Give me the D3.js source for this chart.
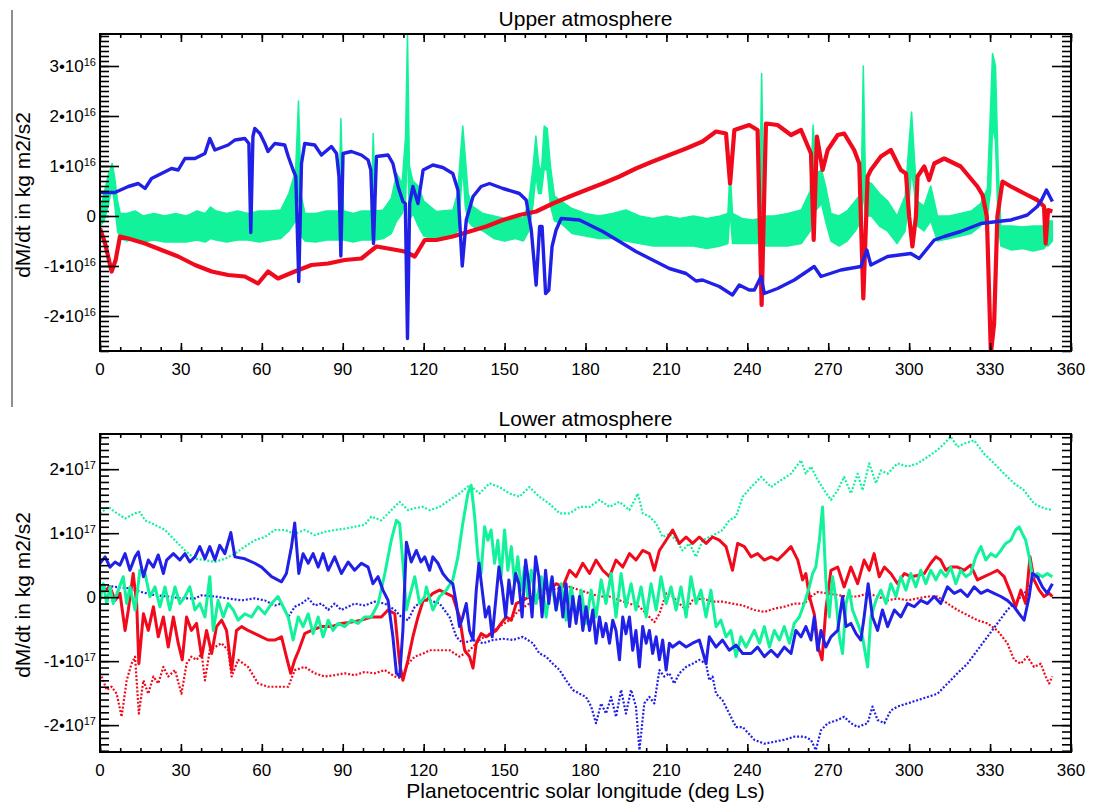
<!DOCTYPE html>
<html lang="en">
<head>
<meta charset="utf-8">
<script src="https://d3js.org/d3.v7.min.js"></script>
<style type="text/css">
body { margin: 0; background: white; }
svg text { font-family: "Liberation Sans", Arial, Helvetica, sans-serif; fill: black; }
.tick line { stroke: black; stroke-width: 1.6; }
</style>
</head>
<body>
<svg id="chart" width="1094" height="809"></svg>
<script type="text/javascript">

// ---- tick labels ----
var xTicks = [0, 30, 60, 90, 120, 150, 180, 210, 240, 270, 300, 330, 360];
var upperYTicks = [-2, -1, 0, 1, 2, 3];
var lowerYTicks = [-2, -1, 0, 1, 2];
var upperExp = "16", lowerExp = "17";   // values below are in units of 1e16 / 1e17

// ---- Upper atmosphere: [Ls, dM/dt / 1e16] ----
var upperRed = [[0,-0.25],[1.9,-0.55],[4.3,-1.11],[5.8,-0.88],[7.4,-0.41],[10.5,-0.45],[16.7,-0.55],[22.8,-0.68],[29,-0.81],[35.2,-0.98],[41.4,-1.11],[47.5,-1.18],[53.7,-1.21],[58.6,-1.35],[62.3,-1.11],[66,-1.25],[72.2,-1.11],[78.4,-0.98],[84.6,-0.95],[90.7,-0.88],[96.9,-0.85],[102.5,-0.61],[106.8,-0.65],[113,-0.71],[116.7,-0.81],[120.4,-0.48],[124.7,-0.48],[130.8,-0.41],[137,-0.31],[143.2,-0.21],[149.4,-0.08],[155.5,0.02],[161.7,0.09],[167.9,0.25],[174.1,0.39],[180.2,0.52],[186.4,0.65],[192.6,0.79],[198.7,0.95],[204.9,1.09],[211.1,1.22],[217.3,1.35],[223.4,1.49],[228.4,1.69],[232.1,1.65],[233.6,0.65],[235.2,1.72],[240.7,1.82],[243.8,1.72],[245.3,-1.78],[246.9,1.85],[251.2,1.82],[256.2,1.62],[259.9,1.72],[263.6,1.25],[264.6,-0.48],[265.8,1.59],[267.9,0.92],[269.8,1.32],[273.5,1.62],[275.9,1.65],[279.6,1.32],[281.5,1.05],[283,-1.65],[284.6,0.79],[285.8,0.92],[289.5,1.19],[293.2,1.32],[296.9,0.92],[298.8,0.85],[300,-0.01],[301.2,-0.61],[302.5,-0.01],[303.1,0.79],[305.6,0.99],[307.4,0.72],[309.3,1.05],[313,1.15],[319.1,0.99],[325.3,0.59],[327.2,0.42],[328.8,-0.01],[330.3,-2.75],[331.5,-2.15],[332.7,-0.01],[334.6,0.69],[337.7,0.59],[343.8,0.42],[347.5,0.32],[350,0.19],[350.6,-0.55],[351.5,0.12],[353.1,0.09]];

var upperBlue = [[0,0.47],[5.5,0.47],[10.5,0.59],[14.2,0.65],[16.7,0.55],[19.1,0.75],[22.8,0.85],[26.5,0.95],[29,0.92],[31.5,1.15],[35.2,1.15],[38.9,1.25],[40.7,1.55],[42.6,1.32],[47.5,1.42],[50,1.52],[53.7,1.55],[55.2,1.45],[55.9,-0.33],[56.7,1.59],[57.4,1.75],[59.3,1.65],[61.1,1.45],[62.3,1.29],[64.8,1.45],[68.5,1.42],[69.8,1.19],[71.6,0.92],[72.6,0.79],[73.7,-1.31],[74.7,1.05],[75.9,1.45],[79.6,1.42],[82.1,1.22],[85.8,1.39],[87.7,1.25],[88.6,0.79],[89.3,-0.8],[90.1,1.25],[93.2,1.29],[96.9,1.22],[99.4,1.12],[100.4,0.92],[101.4,-0.55],[102.5,1.19],[106.8,1.22],[108.6,1.05],[110.5,0.59],[112.3,0.29],[113.2,0.25],[114,-2.45],[114.8,0.25],[116,0.59],[117.9,0.25],[119.8,0.92],[123.4,1.02],[127.1,0.97],[130.8,0.85],[132.7,0.52],[134.3,-1.0],[135.8,-0.08],[138.3,0.39],[141.3,0.59],[144.4,0.65],[149.4,0.55],[155.5,0.45],[158,0.32],[159.9,-0.28],[161.7,-1.38],[163,-0.21],[163.9,-0.21],[165.2,-1.55],[166.4,-1.48],[167.6,-0.61],[169.1,-0.28],[171,-0.05],[177.8,-0.08],[186.4,-0.31],[192.6,-0.51],[198.7,-0.71],[204.9,-0.88],[211.1,-1.05],[217.3,-1.15],[221,-1.3],[223.4,-1.28],[229.6,-1.41],[234.5,-1.58],[237,-1.38],[240.7,-1.48],[242.6,-1.48],[245.1,-1.21],[246.3,-1.55],[251.2,-1.45],[257.4,-1.28],[264.8,-1.01],[267.3,-1.21],[274.7,-1.08],[282.1,-1.01],[284.3,-0.68],[285.8,-0.98],[292,-0.81],[300.6,-0.75],[303.7,-0.85],[309.3,-0.48],[313,-0.41],[319.1,-0.31],[326.6,-0.15],[332.7,-0.11],[337.7,-0.08],[343.8,0.02],[347.5,0.19],[349.1,0.32],[350.9,0.52],[353.1,0.29]];

// green is a noisy band: [Ls, low edge, high edge]
var upperGreen = [[0,-0.2,0.1],[1.5,-0.1,0.45],[3,0.2,0.8],[4.5,0.6,1.05],[5.5,0.2,0.75],[6.5,-0.3,0.3],[7.5,-0.45,0.05],[10,-0.5,0.05],[13,-0.45,0.1],[16,-0.52,0.0],[20,-0.48,0.05],[24,-0.52,0.0],[28,-0.52,0.05],[32,-0.52,0.0],[36,-0.48,0.1],[39,-0.52,0.05],[41,-0.45,0.18],[43,-0.48,0.1],[47,-0.52,0.05],[51,-0.48,0.1],[55,-0.48,0.05],[59,-0.52,0.1],[63,-0.48,0.1],[67,-0.45,0.12],[70,-0.3,0.45],[72.5,-0.1,0.9],[73.6,0.5,2.3],[74.6,-0.4,0.4],[76,-0.5,0.05],[80,-0.52,0.05],[84,-0.48,0.1],[88.5,-0.48,0.1],[89.3,0.2,1.95],[90.3,-0.48,0.1],[94,-0.52,0.05],[97,-0.48,0.1],[100.5,-0.48,0.1],[101.3,0.2,1.65],[102.2,-0.48,0.1],[105,-0.45,0.12],[108,-0.35,0.35],[110,-0.1,0.85],[112,0.05,0.65],[113.3,0.3,1.6],[114,1.5,3.65],[114.7,-0.1,1.0],[116,0.05,0.7],[118,-0.2,0.6],[120,-0.4,0.3],[124.7,-0.48,0.09],[130.8,-0.41,0.12],[132.6,-0.3,0.45],[133.6,0.3,1.2],[134.5,1.0,1.8],[135.4,0.2,1.2],[136.5,-0.1,0.45],[138,-0.2,0.2],[142,-0.3,0.05],[146,-0.45,0.0],[150,-0.5,-0.05],[154,-0.45,0.0],[157,-0.5,-0.05],[159,-0.3,0.3],[160.5,0.2,0.95],[161.6,0.8,1.6],[162.6,0.45,1.05],[163.6,0.45,0.85],[164.7,0.95,1.8],[165.8,0.9,1.75],[167,0.2,1.0],[168.5,-0.1,0.4],[171,-0.15,0.3],[175,-0.35,0.15],[180,-0.4,0.05],[185,-0.45,0.0],[190,-0.45,0.05],[195,-0.5,0.12],[200,-0.55,0.0],[205,-0.6,-0.05],[210,-0.6,0.0],[215,-0.6,-0.05],[220,-0.6,0.0],[225,-0.65,-0.05],[230,-0.6,0.0],[232.8,-0.55,0.05],[233.6,0.1,0.92],[234.5,-0.55,0.05],[238,-0.55,-0.05],[242,-0.55,-0.08],[244.5,-0.55,-0.05],[245.3,0.5,2.85],[246.2,-0.6,0.0],[250,-0.6,0.0],[255,-0.6,0.05],[260,-0.55,0.12],[263.3,-0.3,0.5],[264.4,0.4,1.82],[265.5,0.12,0.85],[267.5,0.25,0.92],[269,-0.1,0.6],[271,-0.5,0.05],[274,-0.6,0.0],[277,-0.5,0.1],[280,-0.3,0.3],[282.2,-0.1,0.45],[283,0.5,3.0],[283.8,0.0,0.7],[286,0.0,0.65],[289,-0.2,0.45],[292,-0.3,0.3],[295.5,-0.55,0.0],[298.5,-0.3,0.4],[300,0.3,1.5],[300.9,0.9,2.08],[301.9,0.5,1.2],[303,-0.2,0.3],[305.5,-0.3,0.2],[308,-0.1,0.6],[310.5,-0.5,0.0],[315,-0.45,0.0],[319,-0.4,0.05],[323,-0.35,0.1],[326.5,-0.2,0.25],[329,0.0,0.55],[330.2,0.5,2.2],[330.9,1.8,3.25],[332,1.5,3.0],[333,-0.2,1.0],[334,-0.6,-0.2],[338,-0.68,-0.2],[342,-0.65,-0.22],[346,-0.7,-0.2],[350,-0.65,-0.2],[350.6,-0.6,0.05],[351.5,-0.6,-0.1],[353.1,-0.5,-0.1]];

// ---- Lower atmosphere: [Ls, dM/dt / 1e17] ----
var lowerBlue = [[0,0.53],[1.9,0.63],[3.7,0.47],[5.6,0.55],[7.4,0.5],[9.3,0.68],[11.1,0.42],[13,0.63],[14.2,0.71],[16.1,0.32],[17.9,0.58],[19.8,0.47],[21.6,0.66],[23.5,0.37],[24.7,0.58],[27.2,0.68],[29.6,0.58],[31.5,0.68],[33.3,0.55],[35.2,0.63],[37,0.79],[38.9,0.6],[40.7,0.79],[42.6,0.58],[44.4,0.81],[46.3,0.68],[48.5,1.01],[50,0.63],[53.7,0.6],[57.4,0.53],[59.9,0.47],[63.6,0.32],[67.3,0.24],[69.1,0.37],[71,0.79],[72.2,1.16],[73.7,0.37],[75.3,0.68],[77.2,0.53],[79,0.68],[80.9,0.47],[82.7,0.68],[84.6,0.42],[87,0.63],[89.5,0.37],[92,0.55],[94.4,0.42],[96.9,0.53],[99.4,0.47],[101.2,0.21],[103.1,0.32],[104.9,0.11],[106.8,-0.05],[108.6,-0.62],[109.9,-1.19],[111.1,-1.24],[112.3,-0.52],[113.6,0.86],[115.4,0.55],[117.3,0.73],[119,0.55],[120.4,0.63],[122.2,0.42],[123.4,0.63],[125.3,0.53],[127.1,0.37],[129,0.27],[130.8,0.21],[132.1,-0.1],[133.3,-0.46],[134.5,-0.31],[135.8,-0.1],[137,-0.52],[138.3,-0.67],[139.5,0.11],[140.5,0.53],[141.7,0.11],[142.9,-0.31],[144.2,-0.15],[145.4,-0.62],[146.6,-0.1],[147.9,0.47],[149.1,0.16],[150.4,-0.31],[151.6,0.27],[152.8,-0.1],[154.1,0.37],[155.3,0.21],[156.5,-0.31],[157.8,0.58],[159,0.21],[160.2,-0.31],[161.5,0.63],[162.7,0.32],[163.9,-0.31],[165.2,0.42],[166.4,-0.1],[167.6,0.32],[169.1,-0.2],[170.4,0.16],[171.6,-0.31],[172.8,0.21],[174.1,-0.46],[175.3,0.01],[176.5,-0.41],[177.8,0.01],[179,-0.52],[180.2,-0.15],[181.5,-0.52],[182.7,-0.2],[183.9,-0.72],[185.2,-0.31],[186.4,-0.62],[187.6,-0.41],[188.9,-0.72],[190.1,-0.36],[191.3,-0.52],[192.6,-0.98],[193.8,-0.31],[195,-0.57],[196.3,-0.31],[197.5,-0.83],[198.7,-0.52],[200,-1.09],[201.2,-0.46],[202.5,-0.72],[203.7,-0.52],[204.9,-0.88],[206.2,-0.62],[207.4,-0.98],[208.6,-0.67],[209.9,-1.14],[211.1,-0.72],[212.3,-0.78],[214.8,-0.7],[217.3,-0.78],[219.7,-0.72],[222.2,-0.67],[224.7,-1.04],[225.9,-0.62],[228.4,-0.78],[230.8,-0.67],[233.3,-0.83],[235.8,-0.75],[238.3,-0.88],[241.4,-0.88],[243.8,-0.78],[246.3,-0.93],[248.8,-0.83],[251.2,-0.93],[253.7,-0.78],[256.2,-0.88],[258,-0.52],[259.9,-0.62],[261.7,-0.46],[263.6,-0.67],[264.8,-0.31],[266.1,-0.83],[267.3,-0.52],[269.1,-0.78],[271,-0.62],[273.5,-0.52],[275.3,0.01],[276.6,-0.46],[278.4,-0.41],[280.3,-0.57],[282.1,-0.67],[283.3,-0.31],[284.8,0.21],[286.4,-0.31],[288.3,-0.52],[290.1,-0.2],[292,-0.46],[294.5,-0.2],[296.9,-0.31],[299.4,-0.1],[301.9,-0.15],[304.3,-0.05],[306.8,-0.1],[309.3,0.01],[311.7,-0.1],[314.2,0.16],[316.7,0.06],[319.1,0.11],[321.6,0.01],[324.1,0.16],[326.6,0.06],[329,0.11],[331.5,0.06],[334,0.01],[336.4,-0.05],[338.9,-0.15],[340.8,-0.26],[342.6,-0.36],[344.5,0.01],[345.7,0.37],[347.5,0.32],[349.4,0.16],[351.2,0.06],[353.1,0.21]];

var lowerRed = [[0,0.19],[1.9,0.11],[3.7,0.16],[5.6,-0.05],[7.4,0.06],[9.3,-0.52],[10.5,-0.2],[12.3,0.37],[13.6,-0.1],[14.4,-1.04],[16.1,-0.26],[17.9,-0.52],[19.8,-0.15],[21.6,-0.62],[23.5,-0.31],[25.3,-0.78],[27.2,-0.31],[29,-0.72],[30.5,-0.98],[32.1,-0.31],[33.9,-0.52],[35.8,-0.41],[37.7,-0.93],[39.5,-0.52],[41.4,-0.88],[43.2,-0.46],[45.1,-0.36],[46.9,-0.52],[48.8,-1.14],[50.6,-0.52],[52.5,-0.46],[54.9,-0.52],[57.4,-0.57],[59.9,-0.62],[62.3,-0.67],[64.8,-0.67],[67.3,-0.62],[69.1,-0.93],[70.7,-1.19],[72.2,-0.98],[73.7,-0.83],[75.9,-0.57],[78.4,-0.52],[82.1,-0.46],[85.8,-0.46],[89.5,-0.41],[93.2,-0.39],[96.9,-0.36],[100.6,-0.31],[104.3,-0.31],[106.8,-0.2],[109.3,-0.26],[111.1,-1.04],[112.3,-1.3],[114.2,-0.98],[116,-0.62],[117.9,-0.31],[119.8,-0.05],[121,-0.05],[123.4,0.06],[125.9,0.11],[128.4,0.06],[130.8,0.01],[133.3,-0.31],[135.2,-0.83],[137,-0.93],[138.3,-1.11],[139.5,-0.72],[141.3,-0.57],[143.2,-0.62],[145,-0.57],[146.9,-0.52],[148.7,-0.41],[150.6,-0.31],[152.5,-0.36],[154.3,-0.1],[156.8,-0.05],[159.2,0.01],[161.7,-0.05],[164.2,0.16],[166.6,0.11],[169.1,0.21],[171.6,0.16],[174.1,0.42],[176.5,0.32],[179,0.53],[181.5,0.37],[183.9,0.58],[186.4,0.42],[188.9,0.32],[191.3,0.58],[193.8,0.47],[196.3,0.68],[198.7,0.58],[201.2,0.73],[203.7,0.68],[205.5,0.42],[207.4,0.73],[209.9,0.89],[212.3,1.05],[214.8,0.84],[217.3,0.94],[219.7,0.84],[222.2,0.94],[224.7,0.84],[227.1,0.94],[229.6,0.89],[232.1,0.79],[234.5,0.42],[236.4,0.84],[238.9,0.79],[241.4,0.63],[243.8,0.68],[246.3,0.58],[248.8,0.63],[251.2,0.58],[253.7,0.68],[256.2,0.79],[258.7,0.58],[260.5,0.27],[261.7,0.37],[263,0.01],[264.8,-0.26],[266.3,-0.78],[267.7,-0.98],[269.1,-0.2],[271,0.42],[273.5,0.47],[275.9,0.16],[278.4,0.47],[280.9,0.21],[283.3,0.58],[285.2,0.42],[287,0.68],[288.9,0.32],[290.8,0.47],[293.2,0.37],[295.7,0.21],[298.2,0.37],[300.6,0.32],[303.1,0.34],[305.6,0.37],[308,0.53],[309.9,0.63],[311.7,0.58],[313.6,0.42],[315.4,0.47],[317.9,0.47],[320.4,0.42],[322.8,0.5],[325.3,0.27],[327.8,0.32],[330.3,0.37],[332.7,0.42],[335.2,0.32],[337.7,0.06],[339.5,-0.15],[341.4,0.11],[343.2,-0.1],[344.8,0.63],[346.3,0.27],[348.2,0.11],[350,0.01],[351.9,0.06],[353.1,0.01]];

var lowerGreen = [[0,-0.05],[1.2,0.21],[2.5,-0.1],[3.7,0.16],[4.9,-0.1],[6.8,0.11],[8.6,0.32],[9.9,-0.1],[11.1,0.16],[13,-0.2],[14.8,0.42],[16.7,0.37],[18.5,0.01],[20.4,0.16],[22.2,-0.15],[24.1,0.16],[25.9,-0.2],[27.8,0.16],[29.6,-0.1],[31.5,0.01],[33.3,0.16],[35.2,-0.2],[37,-0.1],[38.9,-0.31],[40.7,0.32],[42,-0.52],[43.8,-0.05],[45.7,-0.31],[47.5,-0.1],[49.4,-0.2],[51.2,-0.36],[53.7,-0.26],[56.2,-0.31],[58.6,-0.15],[61.1,-0.26],[63.6,-0.1],[66,0.01],[67.9,-0.15],[69.8,-0.31],[71.6,-0.67],[73.5,-0.31],[75.3,-0.46],[77.2,-0.26],[79,-0.57],[80.9,-0.31],[82.7,-0.62],[84.6,-0.36],[86.4,-0.52],[88.3,-0.41],[90.7,-0.46],[93.2,-0.36],[95.7,-0.41],[98.1,-0.31],[100.6,-0.31],[103.1,-0.1],[105.6,0.37],[108,0.89],[109.9,1.2],[111.1,1.15],[112.3,0.53],[113.6,-0.2],[114.8,0.01],[116.7,0.32],[118.5,-0.1],[120.4,0.01],[121,0.16],[123.4,-0.2],[125.9,0.01],[128.4,0.11],[130.8,0.27],[132.7,0.63],[134.5,1.15],[136.4,1.62],[137.6,1.75],[138.9,1.26],[140.1,0.63],[141.3,0.37],[142.6,1.1],[143.8,0.89],[145,1.05],[146.3,0.53],[147.5,0.89],[148.7,0.32],[150,1.05],[151.2,0.42],[152.5,0.79],[153.7,0.21],[154.9,0.63],[156.2,0.11],[157.4,0.47],[158.6,0.01],[159.9,0.42],[161.7,-0.1],[163.6,0.32],[165.4,-0.31],[167.3,0.27],[169.1,-0.2],[171,0.21],[172.8,-0.36],[174.7,0.16],[176.5,-0.31],[178.4,0.11],[180.2,-0.41],[182.1,0.11],[183.9,-0.31],[185.8,0.27],[187.6,-0.1],[189.5,0.37],[191.3,-0.31],[193.2,0.37],[195,-0.15],[196.9,0.21],[198.7,-0.2],[200.6,0.16],[202.5,-0.31],[204.3,0.21],[206.2,-0.2],[208,0.32],[209.9,-0.1],[211.7,0.16],[213.6,-0.2],[215.4,0.16],[217.3,-0.31],[219.1,0.32],[221,-0.1],[222.8,0.11],[224.7,-0.31],[226.5,0.11],[228.4,-0.46],[230.2,-0.36],[232.1,-0.62],[233.9,-0.52],[235.8,-0.93],[237.6,-0.62],[239.5,-0.78],[242.6,-0.52],[244.5,-0.72],[246.3,-0.46],[248.2,-0.78],[250,-0.52],[251.9,-0.67],[253.7,-0.46],[255.6,-0.72],[257.4,-0.41],[259.3,-0.31],[261.1,-0.1],[263,0.16],[264.2,0.37],[265.4,0.47],[266.7,0.89],[267.9,1.41],[269.1,0.27],[270.4,-0.31],[271.6,0.32],[272.9,-0.05],[274.1,-0.62],[275.3,-0.88],[276.6,-0.1],[277.8,0.11],[279,-0.2],[280.9,-0.41],[282.7,-0.62],[284.6,-1.09],[285.8,-0.31],[287.7,-0.05],[289.5,0.11],[291.4,-0.1],[293.2,0.21],[295.1,0.01],[296.9,0.32],[298.8,0.11],[300.6,0.37],[302.5,0.16],[304.3,0.42],[306.2,0.21],[308,0.42],[309.9,0.27],[311.7,0.42],[313.6,0.32],[315.4,0.47],[317.3,0.21],[319.1,0.42],[321,0.32],[322.8,0.37],[324.7,0.63],[326.6,0.79],[328.4,0.58],[330.3,0.68],[332.1,0.63],[334,0.73],[335.8,0.84],[337.7,0.89],[339.5,1.05],[340.8,1.1],[342,0.99],[343.2,0.89],[344.5,0.63],[345.7,0.32],[347.5,0.37],[349.4,0.32],[351.2,0.37],[353.1,0.32]];

var lowerGreenDot = [[0,1.31],[3.1,1.41],[5.6,1.33],[9.3,1.23],[13,1.31],[14.8,1.33],[16.7,1.2],[20.4,1.13],[24.1,1.05],[27.8,0.89],[31.5,0.73],[35.2,0.6],[38.9,0.58],[42.6,0.55],[46.3,0.6],[50,0.68],[53.7,0.79],[57.4,0.89],[61.1,0.94],[64.8,1.05],[68.5,1.05],[72.2,0.99],[75.9,1.05],[79.6,0.97],[83.3,1.02],[87,1.05],[90.7,1.07],[94.4,1.1],[98.1,1.13],[100.6,1.26],[104.3,1.2],[108,1.36],[111.1,1.49],[114.2,1.36],[116.7,1.39],[119.8,1.41],[122.2,1.36],[125.9,1.41],[129.6,1.52],[133.3,1.62],[137,1.75],[140.7,1.62],[144.4,1.78],[148.1,1.72],[151.8,1.62],[155.5,1.57],[159.2,1.72],[162.9,1.57],[166.6,1.46],[170.4,1.31],[174.1,1.31],[177.8,1.41],[181.5,1.41],[185.2,1.52],[188.9,1.41],[192.6,1.49],[196.3,1.36],[199.4,1.62],[201.2,1.31],[203.7,1.26],[206.2,1.15],[208.6,0.94],[211.1,0.99],[213.6,0.89],[216,0.73],[218.5,0.84],[221,0.63],[223.4,0.89],[225.9,0.94],[228.4,0.99],[230.8,1.05],[233.3,1.2],[235.8,1.26],[238.3,1.57],[241.4,1.72],[245.1,1.88],[248.8,1.72],[252.5,1.83],[256.2,1.93],[259.9,2.14],[261.7,1.93],[263.6,2.04],[266.1,1.83],[268.5,1.67],[271,1.52],[273.5,1.67],[275.9,1.88],[278.4,1.62],[280.9,1.93],[282.7,1.67],[285.2,2.09],[287.7,1.78],[289.5,1.98],[292,1.93],[295.7,2.09],[299.4,2.04],[303.1,2.09],[306.8,2.19],[310.5,2.3],[313,2.4],[315.4,2.51],[317.9,2.35],[320.4,2.4],[324.1,2.45],[327.8,2.24],[331.5,2.09],[335.2,1.93],[338.9,1.78],[342.6,1.67],[346.3,1.46],[350,1.39],[353.1,1.36]];

var lowerRedDot = [[0.6,-1.24],[2.5,-1.45],[4.3,-1.4],[6.2,-1.51],[8,-1.87],[9.9,-1.3],[11.7,-1.04],[13,-0.93],[14.4,-1.82],[16.1,-1.3],[17.9,-1.51],[19.8,-1.24],[21.6,-1.35],[23.5,-1.09],[25.3,-1.24],[27.8,-1.14],[30.2,-1.51],[32.1,-1.04],[33.9,-0.93],[35.8,-0.98],[37.7,-0.88],[38.9,-1.3],[40.7,-0.83],[42.6,-0.78],[45.1,-0.72],[47.5,-0.83],[48.8,-1.24],[51.2,-0.98],[54.9,-1.09],[58.6,-1.35],[62.3,-1.4],[66,-1.4],[69.8,-1.4],[72.2,-1.14],[75.9,-1.09],[79.6,-1.19],[83.3,-1.24],[87,-1.22],[90.7,-1.19],[94.4,-1.22],[98.1,-1.17],[101.9,-1.19],[105.6,-1.14],[109.3,-1.24],[111.7,-1.27],[114.2,-1.04],[116.7,-0.93],[119.8,-0.88],[122.2,-0.83],[125.9,-0.83],[129.6,-0.83],[133.3,-0.93],[137,-0.83],[140.7,-0.67],[144.4,-0.57],[148.1,-0.46],[151.8,-0.36],[155.5,-0.2],[159.2,-0.1],[162.9,0.01],[166.6,0.11],[170.4,0.14],[174.1,0.16],[177.8,0.11],[181.5,0.06],[185.2,0.01],[188.9,0.01],[192.6,-0.05],[196.3,-0.1],[200,-0.15],[203.7,-0.31],[205.5,-0.39],[207.4,-0.26],[209.9,0.06],[212.3,0.01],[214.8,-0.1],[217.3,-0.2],[219.7,-0.05],[223.4,-0.02],[227.1,-0.07],[230.8,-0.07],[234.5,-0.1],[238.3,-0.13],[242.6,-0.2],[246.3,-0.23],[250,-0.18],[253.7,-0.15],[257.4,-0.1],[261.1,-0.1],[263.6,0.01],[266.1,0.08],[269.8,0.06],[273.5,0.03],[277.2,0.01],[280.9,0.01],[284.6,0.06],[288.3,0.01],[292,-0.05],[295.7,-0.02],[299.4,-0.05],[303.1,-0.02],[306.8,0.01],[310.5,0.01],[314.2,-0.1],[317.9,-0.2],[321.6,-0.28],[325.3,-0.36],[329,-0.41],[332.7,-0.52],[336.4,-0.72],[338.9,-0.98],[341.4,-1.04],[343.8,-0.93],[346.3,-1.09],[348.8,-1.04],[350.6,-1.24],[351.9,-1.35],[353.1,-1.24]];

var lowerBlueDot = [[0,0.19],[5.6,0.16],[10.5,0.14],[15.4,0.08],[20.4,0.03],[25.3,0.01],[30.2,-0.02],[35.2,-0.02],[37.7,0.03],[42.6,0.01],[47.5,-0.02],[52.5,-0.05],[57.4,-0.02],[61.1,-0.05],[64.8,-0.13],[67.3,-0.1],[69.8,-0.31],[72.2,-0.15],[74.7,-0.1],[77.2,-0.02],[79.6,-0.13],[82.1,-0.1],[84.6,-0.2],[87,-0.1],[89.5,-0.2],[92,-0.15],[94.4,-0.1],[98.1,-0.13],[101.9,-0.07],[105.6,-0.1],[109.3,-0.2],[111.7,-0.31],[114.2,-0.36],[116.7,-0.15],[119.8,-0.05],[122.2,-0.05],[125.9,-0.1],[129.6,-0.31],[132.1,-0.62],[134.5,-0.72],[138.3,-0.67],[142,-0.72],[145.7,-0.67],[149.4,-0.65],[153.1,-0.67],[156.8,-0.62],[160.5,-0.72],[162.9,-0.88],[165.4,-0.93],[167.9,-1.04],[170.4,-1.14],[172.8,-1.3],[175.3,-1.45],[177.8,-1.51],[180.2,-1.56],[182.1,-1.71],[183.9,-1.97],[185.8,-1.66],[187.6,-1.82],[189.5,-1.56],[191.3,-1.87],[193.2,-1.45],[195,-1.82],[196.9,-1.45],[198.7,-1.71],[200,-2.39],[201.8,-1.66],[203.7,-1.56],[205.5,-1.66],[207.4,-1.14],[209.2,-1.24],[211.1,-1.19],[212.9,-1.35],[214.8,-1.19],[217.3,-1.09],[219.7,-1.04],[222.2,-0.98],[224.7,-1.04],[225.9,-1.3],[227.1,-1.24],[228.4,-1.51],[230.8,-1.61],[233.3,-1.82],[235.8,-2.03],[238.3,-2.03],[242.6,-2.23],[246.3,-2.29],[250,-2.26],[253.7,-2.23],[257.4,-2.18],[261.1,-2.18],[263.6,-2.23],[265.4,-2.39],[267.3,-2.08],[269.8,-1.97],[273.5,-1.92],[275.9,-1.87],[278.4,-1.97],[280.9,-2.03],[284.6,-1.97],[286.4,-1.71],[288.3,-1.92],[290.8,-1.97],[293.2,-1.77],[295.7,-1.71],[299.4,-1.66],[303.1,-1.61],[306.8,-1.56],[310.5,-1.51],[314.2,-1.35],[317.9,-1.19],[321.6,-1.04],[325.3,-0.83],[329,-0.62],[332.7,-0.41],[336.4,-0.2],[340.1,-0.05],[343.8,0.11],[346.3,0.32],[348.8,0.32]];

var RED = "#f10a1c", BLUE = "#2020e6", GREEN = "#12f29a";

var svg = d3.select("#chart");

// thin vertical rule at the left of the upper panel
svg.append("line")
	.attr("x1", 12).attr("x2", 12).attr("y1", 10).attr("y2", 407)
	.style("stroke", "#444").style("stroke-width", 1.2);

var x = d3.scaleLinear().domain([0, 360]).range([100, 1071]);

function drawPanel(p) {
	var y = d3.scaleLinear().domain(p.yDomain).range([p.bottom, p.top]);
	var g = svg.append("g");
	var clipId = "clip" + p.id;

	g.append("clipPath").attr("id", clipId)
		.append("rect")
		.attr("x", x(0)).attr("y", p.top)
		.attr("width", x(360) - x(0)).attr("height", p.bottom - p.top);

	var plot = g.append("g").attr("clip-path", "url(#" + clipId + ")");
	var line = d3.line().x(function(d) { return x(d[0]); }).y(function(d) { return y(d[1]); });

	p.series.forEach(function(s) {
		if (s.band) {
			var area = d3.area()
				.x(function(d) { return x(d[0]); })
				.y0(function(d) { return y(d[1]); })
				.y1(function(d) { return y(d[2]); });
			plot.append("path").datum(s.data).attr("d", area)
				.style("fill", s.color).style("stroke", s.color)
				.style("stroke-width", 1.5).style("stroke-linejoin", "round");
		} else {
			plot.append("path").datum(s.data).attr("d", line)
				.style("fill", "none").style("stroke", s.color)
				.style("stroke-width", s.width)
				.style("stroke-linejoin", "round")
				.style("stroke-dasharray", s.dash || null);
		}
	});

	// minor and major ticks on all four sides, pointing inward
	var xMinor = d3.range(0, 360.1, 7.5);
	var yMinor = d3.range(Math.ceil(p.yDomain[0] * 10), Math.floor(p.yDomain[1] * 10) + 1).map(function(i) { return i / 10; });

	function addAxis(axis, transform) {
		g.append("g").attr("transform", transform).call(axis)
			.call(function(a) { a.select(".domain").remove(); });
	}
	addAxis(d3.axisBottom(x).tickValues(xMinor).tickSize(-4).tickFormat(""), "translate(0," + p.bottom + ")");
	addAxis(d3.axisTop(x).tickValues(xMinor).tickSize(-4).tickFormat(""), "translate(0," + p.top + ")");
	addAxis(d3.axisBottom(x).tickValues(xTicks).tickSize(-8).tickFormat(""), "translate(0," + p.bottom + ")");
	addAxis(d3.axisTop(x).tickValues(xTicks).tickSize(-8).tickFormat(""), "translate(0," + p.top + ")");
	addAxis(d3.axisLeft(y).tickValues(yMinor).tickSize(-9).tickFormat(""), "translate(" + x(0) + ",0)");
	addAxis(d3.axisRight(y).tickValues(yMinor).tickSize(-9).tickFormat(""), "translate(" + x(360) + ",0)");
	addAxis(d3.axisLeft(y).tickValues(p.yTicks).tickSize(-19).tickFormat(""), "translate(" + x(0) + ",0)");
	addAxis(d3.axisRight(y).tickValues(p.yTicks).tickSize(-19).tickFormat(""), "translate(" + x(360) + ",0)");

	// frame
	g.append("rect")
		.attr("x", x(0)).attr("y", p.top)
		.attr("width", x(360) - x(0)).attr("height", p.bottom - p.top)
		.style("fill", "none").style("stroke", "black").style("stroke-width", 2);

	// x tick labels
	g.selectAll("text.xlab").data(xTicks).join("text")
		.attr("class", "xlab")
		.attr("x", function(d) { return x(d); })
		.attr("y", p.bottom + 24)
		.attr("text-anchor", "middle")
		.style("font-size", "17px")
		.text(function(d) { return d; });

	// y tick labels like 2•10^16
	p.yTicks.forEach(function(v) {
		var t = g.append("text")
			.attr("x", x(0) - 4).attr("y", y(v)).attr("dy", "0.36em")
			.attr("text-anchor", "end").style("font-size", "17px");
		if (v === 0) { t.text("0"); return; }
		t.append("tspan").text(v + "\u202210");
		t.append("tspan").attr("dy", "-0.55em").style("font-size", "11px").text(p.exp);
	});

	// panel title
	g.append("text")
		.attr("x", (x(0) + x(360)) / 2).attr("y", p.top - 8)
		.attr("text-anchor", "middle").style("font-size", "21px")
		.text(p.title);

	// y axis title
	g.append("text")
		.attr("transform", "translate(30," + p.labelY + ") rotate(-90)")
		.attr("text-anchor", "middle").style("font-size", "21px")
		.text("dM/dt in kg m2/s2");
}

drawPanel({
	id: "upper", top: 34, bottom: 351, yDomain: [-2.7, 3.64],
	yTicks: upperYTicks, exp: upperExp, title: "Upper atmosphere", labelY: 195,
	series: [
		{ data: upperGreen, color: GREEN, band: true },
		{ data: upperRed, color: RED, width: 4.2 },
		{ data: upperBlue, color: BLUE, width: 3.4 }
	]
});

drawPanel({
	id: "lower", top: 434, bottom: 752, yDomain: [-2.42, 2.55],
	yTicks: lowerYTicks, exp: lowerExp, title: "Lower atmosphere", labelY: 595,
	series: [
		{ data: lowerGreenDot, color: GREEN, width: 2.2, dash: "2,1.8" },
		{ data: lowerRedDot, color: RED, width: 2.2, dash: "2,1.8" },
		{ data: lowerBlueDot, color: BLUE, width: 2.2, dash: "2,1.8" },
		{ data: lowerRed, color: RED, width: 3 },
		{ data: lowerGreen, color: GREEN, width: 3 },
		{ data: lowerBlue, color: BLUE, width: 3 }
	]
});

// x axis title
svg.append("text")
	.attr("x", (x(0) + x(360)) / 2).attr("y", 798)
	.attr("text-anchor", "middle").style("font-size", "21px")
	.text("Planetocentric solar longitude (deg Ls)");

</script>
</body>
</html>
